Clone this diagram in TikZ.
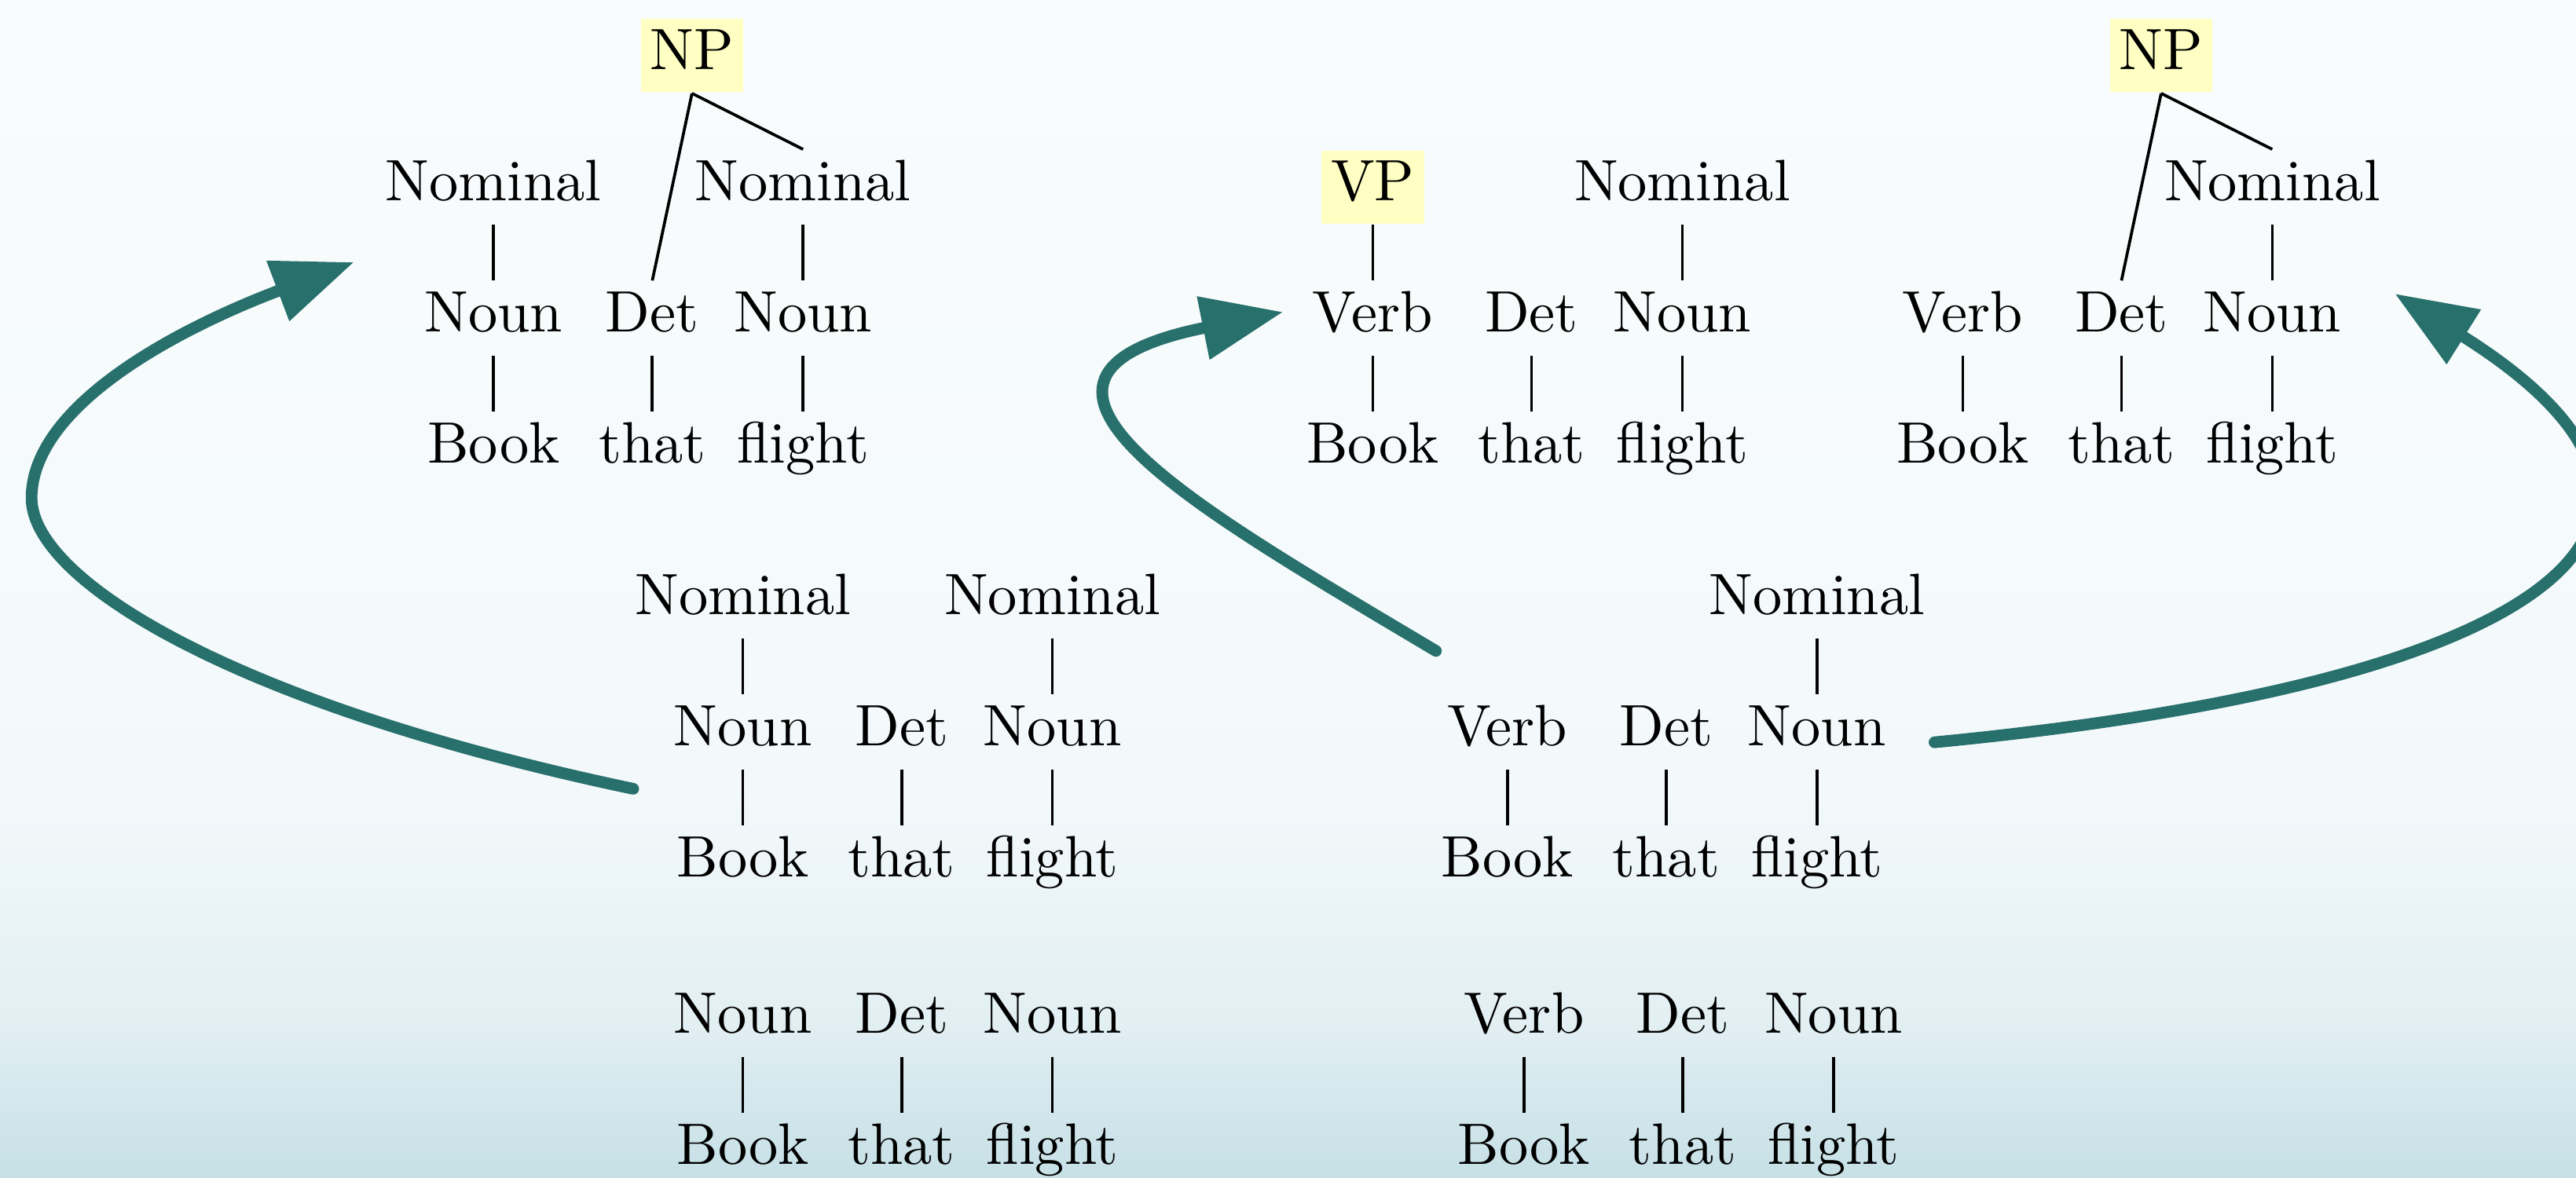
\documentclass[tikz,border=0pt]{standalone}
\usepackage{tikz}
\usetikzlibrary{arrows.meta}
\definecolor{hlyellow}{RGB}{255,255,195}
\definecolor{arrowteal}{RGB}{40,112,108}
\definecolor{bgtop}{RGB}{249,252,253}
\definecolor{bgmid}{RGB}{243,249,251}
\definecolor{bglow}{RGB}{226,239,243}
\definecolor{bgbottom}{RGB}{198,224,230}

\tikzset{
  cat/.style={anchor=base, inner xsep=1.6pt, inner ysep=2pt, text height=6.6pt, text depth=1.9pt},
  hl/.style={cat, fill=hlyellow},
  branch/.style={line width=0.5pt},
  chartarrow/.style={-{Triangle[length=0.49cm,width=0.37cm]}, line width=2pt, color=arrowteal, line cap=round},
}

\begin{document}
\begin{tikzpicture}
	\useasboundingbox (0,0) rectangle (15.5,7.088);
	% background
	\fill[bottom color=bgbottom, top color=bglow] (0,0) rectangle (15.5,0.94);
	\fill[bottom color=bglow, top color=bgmid] (0,0.94) rectangle (15.5,2.34);
	\fill[bottom color=bgmid, top color=bgtop] (0,2.34) rectangle (15.5,7.088);
	\def \xSep {0.955}
	% NP -> Det Nominal, next to a Nominal over Book
	\begin{scope}
	\def \xInit {2.97}
	\node[hl] (a-np) at (\xInit+1.25*\xSep,6.67) {NP};
	\node[cat] (a-nom1) at (\xInit,5.88) {Nominal};
	\node[cat] (a-nom3) at (\xInit+1.95*\xSep,5.88) {Nominal};
	\node[cat] (a-noun1) at (\xInit,5.09) {Noun};
	\node[cat] (a-det) at (\xInit+\xSep,5.09) {Det};
	\node[cat] (a-noun3) at (\xInit+1.95*\xSep,5.09) {Noun};
	\node[cat] (a-w1) at (\xInit,4.30) {Book};
	\node[cat] (a-w2) at (\xInit+\xSep,4.30) {that};
	\node[cat] (a-w3) at (\xInit+1.95*\xSep,4.30) {flight};
	\draw[branch] (a-np.south) -- (a-det.north);
	\draw[branch] (a-np.south) -- (a-nom3.north);
	\draw[branch] (a-nom1.south) -- (a-noun1.north);
	\draw[branch] (a-nom3.south) -- (a-noun3.north);
	\draw[branch] (a-noun1.south) -- (a-w1.north);
	\draw[branch] (a-det.south) -- (a-w2.north);
	\draw[branch] (a-noun3.south) -- (a-w3.north);
	\end{scope}
	% VP over Verb
	\begin{scope}
	\def \xInit {8.26}
	\node[hl] (b-vp) at (\xInit,5.88) {VP};
	\node[cat] (b-nom3) at (\xInit+1.95*\xSep,5.88) {Nominal};
	\node[cat] (b-verb) at (\xInit,5.09) {Verb};
	\node[cat] (b-det) at (\xInit+\xSep,5.09) {Det};
	\node[cat] (b-noun3) at (\xInit+1.95*\xSep,5.09) {Noun};
	\node[cat] (b-w1) at (\xInit,4.30) {Book};
	\node[cat] (b-w2) at (\xInit+\xSep,4.30) {that};
	\node[cat] (b-w3) at (\xInit+1.95*\xSep,4.30) {flight};
	\draw[branch] (b-vp.south) -- (b-verb.north);
	\draw[branch] (b-nom3.south) -- (b-noun3.north);
	\draw[branch] (b-verb.south) -- (b-w1.north);
	\draw[branch] (b-det.south) -- (b-w2.north);
	\draw[branch] (b-noun3.south) -- (b-w3.north);
	\end{scope}
	% NP -> Det Nominal after a Verb
	\begin{scope}
	\def \xInit {11.81}
	\node[hl] (c-np) at (\xInit+1.25*\xSep,6.67) {NP};
	\node[cat] (c-nom3) at (\xInit+1.95*\xSep,5.88) {Nominal};
	\node[cat] (c-verb) at (\xInit,5.09) {Verb};
	\node[cat] (c-det) at (\xInit+\xSep,5.09) {Det};
	\node[cat] (c-noun3) at (\xInit+1.95*\xSep,5.09) {Noun};
	\node[cat] (c-w1) at (\xInit,4.30) {Book};
	\node[cat] (c-w2) at (\xInit+\xSep,4.30) {that};
	\node[cat] (c-w3) at (\xInit+1.95*\xSep,4.30) {flight};
	\draw[branch] (c-np.south) -- (c-det.north);
	\draw[branch] (c-np.south) -- (c-nom3.north);
	\draw[branch] (c-nom3.south) -- (c-noun3.north);
	\draw[branch] (c-verb.south) -- (c-w1.north);
	\draw[branch] (c-det.south) -- (c-w2.north);
	\draw[branch] (c-noun3.south) -- (c-w3.north);
	\end{scope}
	% two Nominals
	\begin{scope}
	\def \xInit {4.47}
	\node[cat] (d-nom1) at (\xInit,3.39) {Nominal};
	\node[cat] (d-nom3) at (\xInit+1.95*\xSep,3.39) {Nominal};
	\node[cat] (d-noun1) at (\xInit,2.60) {Noun};
	\node[cat] (d-det) at (\xInit+\xSep,2.60) {Det};
	\node[cat] (d-noun3) at (\xInit+1.95*\xSep,2.60) {Noun};
	\node[cat] (d-w1) at (\xInit,1.81) {Book};
	\node[cat] (d-w2) at (\xInit+\xSep,1.81) {that};
	\node[cat] (d-w3) at (\xInit+1.95*\xSep,1.81) {flight};
	\draw[branch] (d-nom1.south) -- (d-noun1.north);
	\draw[branch] (d-nom3.south) -- (d-noun3.north);
	\draw[branch] (d-noun1.south) -- (d-w1.north);
	\draw[branch] (d-det.south) -- (d-w2.north);
	\draw[branch] (d-noun3.south) -- (d-w3.north);
	\end{scope}
	% one Nominal
	\begin{scope}
	\def \xInit {9.07}
	\node[cat] (e-nom3) at (\xInit+1.95*\xSep,3.39) {Nominal};
	\node[cat] (e-verb) at (\xInit,2.60) {Verb};
	\node[cat] (e-det) at (\xInit+\xSep,2.60) {Det};
	\node[cat] (e-noun3) at (\xInit+1.95*\xSep,2.60) {Noun};
	\node[cat] (e-w1) at (\xInit,1.81) {Book};
	\node[cat] (e-w2) at (\xInit+\xSep,1.81) {that};
	\node[cat] (e-w3) at (\xInit+1.95*\xSep,1.81) {flight};
	\draw[branch] (e-nom3.south) -- (e-noun3.north);
	\draw[branch] (e-verb.south) -- (e-w1.north);
	\draw[branch] (e-det.south) -- (e-w2.north);
	\draw[branch] (e-noun3.south) -- (e-w3.north);
	\end{scope}
	% lexical level only
	\begin{scope}
	\def \xInit {4.47}
	\node[cat] (f-noun1) at (\xInit,0.87) {Noun};
	\node[cat] (f-det) at (\xInit+\xSep,0.87) {Det};
	\node[cat] (f-noun3) at (\xInit+1.95*\xSep,0.87) {Noun};
	\node[cat] (f-w1) at (\xInit,0.08) {Book};
	\node[cat] (f-w2) at (\xInit+\xSep,0.08) {that};
	\node[cat] (f-w3) at (\xInit+1.95*\xSep,0.08) {flight};
	\draw[branch] (f-noun1.south) -- (f-w1.north);
	\draw[branch] (f-det.south) -- (f-w2.north);
	\draw[branch] (f-noun3.south) -- (f-w3.north);
	\end{scope}
	\begin{scope}
	\def \xInit {9.17}
	\node[cat] (g-verb) at (\xInit,0.87) {Verb};
	\node[cat] (g-det) at (\xInit+\xSep,0.87) {Det};
	\node[cat] (g-noun3) at (\xInit+1.95*\xSep,0.87) {Noun};
	\node[cat] (g-w1) at (\xInit,0.08) {Book};
	\node[cat] (g-w2) at (\xInit+\xSep,0.08) {that};
	\node[cat] (g-w3) at (\xInit+1.95*\xSep,0.08) {flight};
	\draw[branch] (g-verb.south) -- (g-w1.north);
	\draw[branch] (g-det.south) -- (g-w2.north);
	\draw[branch] (g-noun3.south) -- (g-w3.north);
	\end{scope}
	% arrows between the charts
	\coordinate (s1) at (3.81,2.34);
	\coordinate (m1) at (0.19,4.09);
	\coordinate (e1) at (2.13,5.51);
	\draw[chartarrow] (s1) .. controls +(-2.42,0.51) and +(0,-0.49) .. (m1)
		.. controls +(0,0.54) and +(-1.11,-0.42) .. (e1);
	\coordinate (s2) at (8.64,3.17);
	\coordinate (e2) at (7.72,5.21);
	\draw[chartarrow] (s2) .. controls +(-1.44,0.86) and +(-1.94,-0.39) .. (e2);
	\coordinate (s3) at (11.64,2.62);
	\coordinate (e3) at (14.41,5.32);
	\draw[chartarrow] (s3) .. controls +(3.93,0.38) and +(2.09,-1.31) .. (e3);
\end{tikzpicture}
\end{document}
